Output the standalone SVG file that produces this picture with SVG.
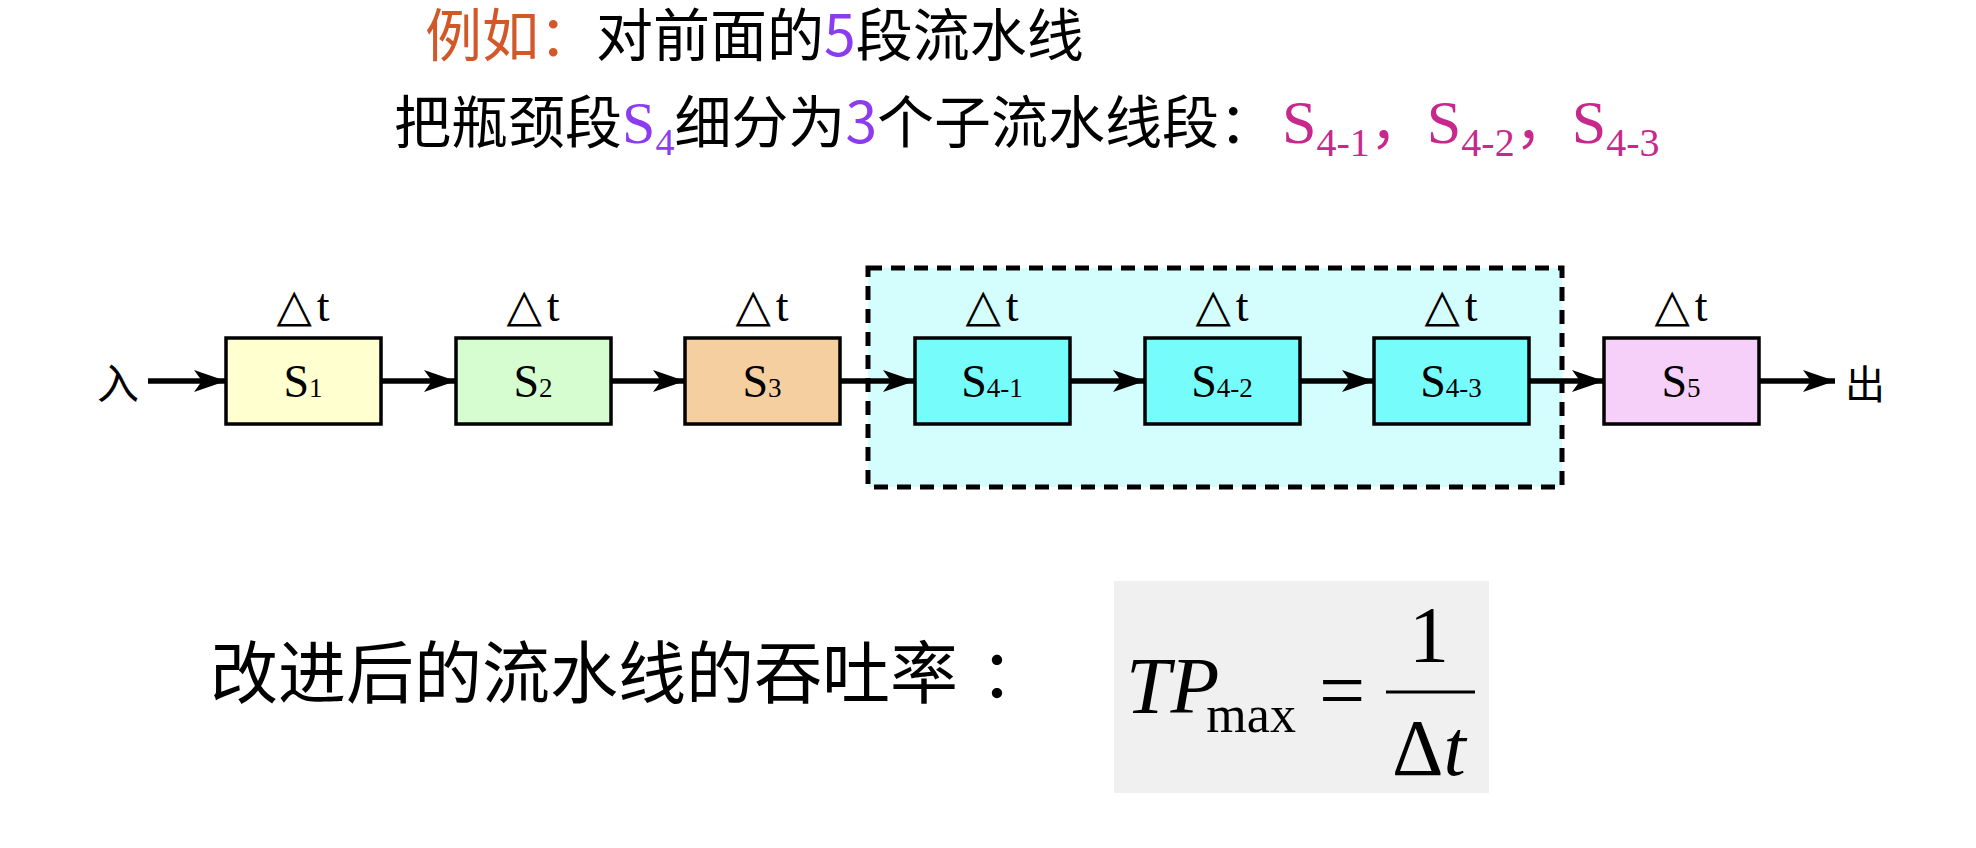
<svg xmlns="http://www.w3.org/2000/svg" width="1976" height="848" viewBox="0 0 1976 848">
<style>
.cjk{font-family:"Noto Sans CJK SC","Noto Sans",sans-serif;}
.ser{font-family:"Liberation Serif","Noto Sans CJK SC",serif;}
.box{stroke:#000;stroke-width:3.5;}
.lbl{font-family:"Liberation Serif",serif;font-size:46px;text-anchor:middle;fill:#000;}
.sub{font-size:27px;}
.dt{font-family:"Liberation Serif","DejaVu Sans",serif;font-size:46px;text-anchor:middle;fill:#000;}
.conn line{stroke:#000;stroke-width:5.5;marker-end:url(#ah);}
</style>
<defs>
<marker id="ah" markerUnits="userSpaceOnUse" markerWidth="32" markerHeight="22" viewBox="0 0 32 22" refX="32" refY="11" orient="auto">
<path d="M0,0 L32,11 L0,22 L8,11 Z" fill="#000"/>
</marker>
</defs>
<rect width="1976" height="848" fill="#fff"/>

<g id="title">
<text class="cjk" x="425" y="56" font-size="57"><tspan fill="#D2582A">例如：</tspan><tspan fill="#000">对前面的</tspan><tspan fill="#8C3CF0">5</tspan><tspan fill="#000">段流水线</tspan></text>
<text class="cjk" x="394" y="143" font-size="57"><tspan fill="#000">把瓶颈段</tspan><tspan class="ser" fill="#8C3CF0" font-size="60">S</tspan><tspan class="ser" fill="#8C3CF0" font-size="38" dy="12">4</tspan><tspan fill="#000" dy="-12">细分为</tspan><tspan fill="#8C3CF0">3</tspan><tspan fill="#000">个子流水线段：</tspan><tspan class="ser" fill="#C8288C" font-size="62" dx="6">S</tspan><tspan class="ser" fill="#C8288C" font-size="40" dy="13">4-1</tspan><tspan fill="#C8288C" dy="-13">，</tspan><tspan class="ser" fill="#C8288C" font-size="62">S</tspan><tspan class="ser" fill="#C8288C" font-size="40" dy="13">4-2</tspan><tspan fill="#C8288C" dy="-13">，</tspan><tspan class="ser" fill="#C8288C" font-size="62">S</tspan><tspan class="ser" fill="#C8288C" font-size="40" dy="13">4-3</tspan></text>
</g>

<g id="group-s4">
<rect x="868" y="268" width="694" height="219" fill="#D4FEFE" stroke="#000" stroke-width="5" stroke-dasharray="14 9"/>
</g>

<g id="connectors" class="conn">
<line x1="148" y1="381" x2="226" y2="381"/>
<line x1="381" y1="381" x2="456" y2="381"/>
<line x1="611" y1="381" x2="685" y2="381"/>
<line x1="840" y1="381" x2="915" y2="381"/>
<line x1="1070" y1="381" x2="1145" y2="381"/>
<line x1="1300" y1="381" x2="1374" y2="381"/>
<line x1="1529" y1="381" x2="1604" y2="381"/>
<line x1="1759" y1="381" x2="1835" y2="381"/>
</g>

<g id="in"><text class="cjk" x="97" y="399" font-size="42">入</text></g>
<g id="out"><text class="cjk" x="1845" y="399" font-size="40">出</text></g>

<g id="s1">
<text class="dt" x="303" y="321">△<tspan dx="5">t</tspan></text>
<rect class="box" x="226" y="338" width="155" height="86" fill="#FFFFD0"/>
<text class="lbl" x="303" y="397">S<tspan class="sub">1</tspan></text>
</g>
<g id="s2">
<text class="dt" x="533" y="321">△<tspan dx="5">t</tspan></text>
<rect class="box" x="456" y="338" width="155" height="86" fill="#D5FDD0"/>
<text class="lbl" x="533" y="397">S<tspan class="sub">2</tspan></text>
</g>
<g id="s3">
<text class="dt" x="762" y="321">△<tspan dx="5">t</tspan></text>
<rect class="box" x="685" y="338" width="155" height="86" fill="#F6CFA0"/>
<text class="lbl" x="762" y="397">S<tspan class="sub">3</tspan></text>
</g>
<g id="s4-1">
<text class="dt" x="992" y="321">△<tspan dx="5">t</tspan></text>
<rect class="box" x="915" y="338" width="155" height="86" fill="#77FCFC"/>
<text class="lbl" x="992" y="397">S<tspan class="sub">4-1</tspan></text>
</g>
<g id="s4-2">
<text class="dt" x="1222" y="321">△<tspan dx="5">t</tspan></text>
<rect class="box" x="1145" y="338" width="155" height="86" fill="#77FCFC"/>
<text class="lbl" x="1222" y="397">S<tspan class="sub">4-2</tspan></text>
</g>
<g id="s4-3">
<text class="dt" x="1451" y="321">△<tspan dx="5">t</tspan></text>
<rect class="box" x="1374" y="338" width="155" height="86" fill="#77FCFC"/>
<text class="lbl" x="1451" y="397">S<tspan class="sub">4-3</tspan></text>
</g>
<g id="s5">
<text class="dt" x="1681" y="321">△<tspan dx="5">t</tspan></text>
<rect class="box" x="1604" y="338" width="155" height="86" fill="#F7D0F9"/>
<text class="lbl" x="1681" y="397">S<tspan class="sub">5</tspan></text>
</g>

<g id="caption">
<text class="cjk" x="210" y="698" font-size="68" fill="#000">改进后的流水线的吞吐率<tspan dx="22">：</tspan></text>
</g>

<g id="formula">
<rect x="1114" y="581" width="375" height="212" fill="#F0F0F0"/>
<text font-family="Liberation Serif,serif" font-size="80" font-style="italic" x="1126" y="713" fill="#000">TP<tspan font-size="52" font-style="normal" dx="-13" dy="19">max</tspan></text>
<text font-family="Liberation Serif,serif" font-size="82" x="1319" y="718" fill="#000">=</text>
<line x1="1386" y1="692" x2="1475" y2="692" stroke="#000" stroke-width="3"/>
<text font-family="Liberation Serif,serif" font-size="80" x="1429" y="662" text-anchor="middle" fill="#000">1</text>
<text font-family="Liberation Serif,serif" font-size="80" x="1392" y="775" fill="#000">Δ<tspan font-style="italic">t</tspan></text>
</g>
</svg>
